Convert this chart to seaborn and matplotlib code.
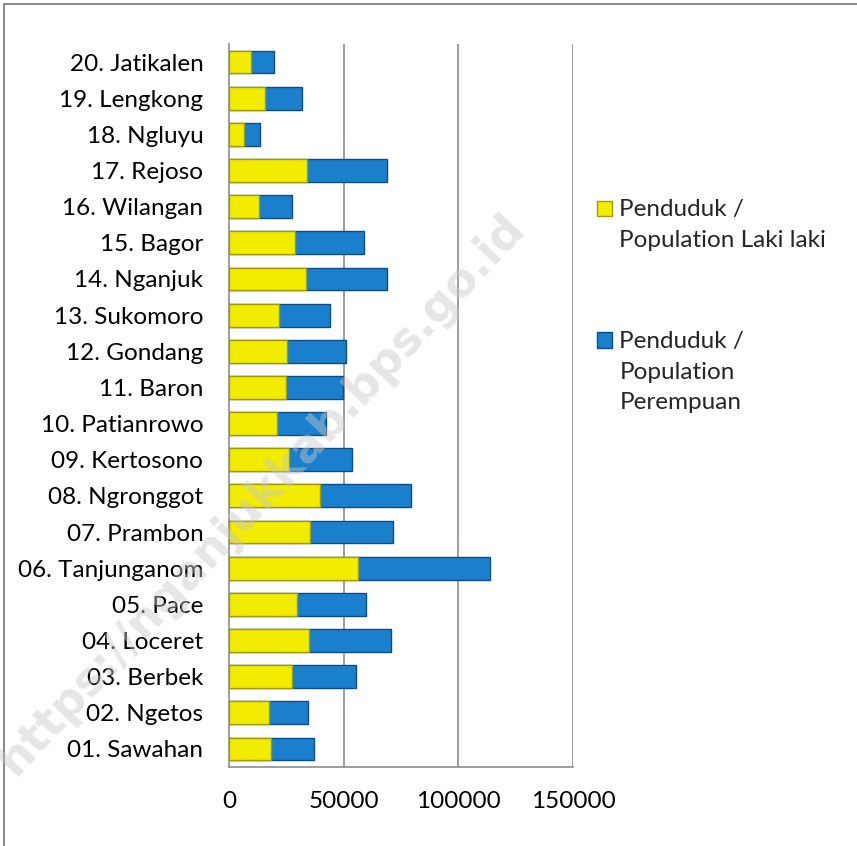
import matplotlib
matplotlib.use("Agg")
import matplotlib.pyplot as plt
import seaborn as sns
import pandas as pd
from matplotlib.lines import Line2D
from matplotlib.patches import Rectangle
from matplotlib.legend_handler import HandlerPatch

# ---- data (01 .. 20) ----
kecamatan = ["01. Sawahan", "02. Ngetos", "03. Berbek", "04. Loceret", "05. Pace",
             "06. Tanjunganom", "07. Prambon", "08. Ngronggot", "09. Kertosono",
             "10. Patianrowo", "11. Baron", "12. Gondang", "13. Sukomoro",
             "14. Nganjuk", "15. Bagor", "16. Wilangan", "17. Rejoso",
             "18. Ngluyu", "19. Lengkong", "20. Jatikalen"]
laki_laki = [18310, 17290, 27460, 35020, 29640, 56230, 35310, 39670, 26150, 20920,
             24700, 25430, 21940, 33420, 28910, 13220, 34000, 6540, 15690, 9590]
perempuan = [18740, 17290, 27750, 35740, 30080, 57390, 36180, 39520, 27320, 21220,
             24990, 25430, 21940, 35600, 29940, 14100, 34870, 6970, 16280, 10170]
x_ticks = [0, 50000, 100000, 150000]
label_laki = "Penduduk /\nPopulation Laki laki"
label_perempuan = "Penduduk /\nPopulation\nPerempuan"

df = pd.DataFrame({"kecamatan": kecamatan, "laki": laki_laki, "perempuan": perempuan})
df["total"] = df["laki"] + df["perempuan"]
order = kecamatan[::-1]

sns.set_theme(style="white")
plt.rcParams["font.family"] = ["Lato", "DejaVu Sans"]

FS = 17.5

fig = plt.figure(figsize=(8.57, 8.46), dpi=100)
ax = fig.add_axes([229 / 857, 1 - 767 / 846, 344 / 857, 723 / 846])

sns.barplot(data=df, y="kecamatan", x="total", order=order, orient="h",
            color="#1A80CE", saturation=1, width=0.63, edgecolor="#0B4E86",
            linewidth=1.0, label=label_perempuan, ax=ax, zorder=3)
sns.barplot(data=df, y="kecamatan", x="laki", order=order, orient="h",
            color="#F2EC00", saturation=1, width=0.63, edgecolor="#A39C00",
            linewidth=1.0, label=label_laki, ax=ax, zorder=4)

ax.set_xlim(0, 150000)
ax.set_ylim(19.5, -0.5)
ax.set_xticks(x_ticks)
ax.set_xticklabels([str(t) for t in x_ticks])
ax.set_xlabel("")
ax.set_ylabel("")
ax.grid(False)
for t in x_ticks[1:]:
    ax.axvline(t, color="#8C8C8C", lw=1.2, zorder=1)
for s in ["top", "right"]:
    ax.spines[s].set_visible(False)
for s in ["left", "bottom"]:
    ax.spines[s].set_color("#8C8C8C")
    ax.spines[s].set_linewidth(1.2)
ax.tick_params(axis="y", length=0, pad=18.5, labelsize=FS, labelcolor="black")
ax.tick_params(axis="x", length=0, pad=17, labelsize=FS, labelcolor="black")


class TopAlignedHandler(HandlerPatch):
    """Place the legend square next to the first line of a multi-line label."""
    def __init__(self, nlines, shift_px):
        super().__init__()
        self.nlines = nlines
        self.shift_px = shift_px

    def create_artists(self, legend, orig_handle, xdescent, ydescent, width,
                       height, fontsize, trans):
        shift = (self.nlines - 1) * self.shift_px / 2.0
        p = Rectangle((-xdescent, -ydescent + shift), width, height)
        self.update_prop(p, orig_handle, legend)
        p.set_transform(trans)
        return [p]


LS = 1.56
LINE_PT = 32.5 * 72 / 100  # distance between label lines, in points
handles, labels = ax.get_legend_handles_labels()
hmap = dict(zip(labels, handles))
h_l = hmap[label_laki].patches[0]
h_p = hmap[label_perempuan].patches[0]
leg = ax.legend([h_l, h_p], [label_laki, label_perempuan],
                loc="upper left", bbox_to_anchor=(597 / 857, 1 - 199 / 846),
                bbox_transform=fig.transFigure, frameon=False, fontsize=FS,
                handlelength=0.62, handleheight=0.62, handletextpad=0.3,
                labelspacing=3.33, borderaxespad=0, borderpad=0,
                handler_map={h_l: TopAlignedHandler(2, LINE_PT),
                             h_p: TopAlignedHandler(3, LINE_PT)})
for t in leg.get_texts():
    t.set_linespacing(LS)

# watermark
fig.text(0.305, 0.415, "https://nganjukkab.bps.go.id", rotation=47,
         ha="center", va="center", fontsize=33, fontweight="bold",
         family="DejaVu Sans", color="#C8C8C8", alpha=0.45, zorder=10)

# outer frame (top and left)
fig.add_artist(Line2D([4 / 857, 1], [1 - 4 / 846, 1 - 4 / 846], color="#8C8C8C", lw=1.5))
fig.add_artist(Line2D([4 / 857, 4 / 857], [0, 1 - 4 / 846], color="#8C8C8C", lw=1.5))

fig.savefig("out.png", dpi=100)
